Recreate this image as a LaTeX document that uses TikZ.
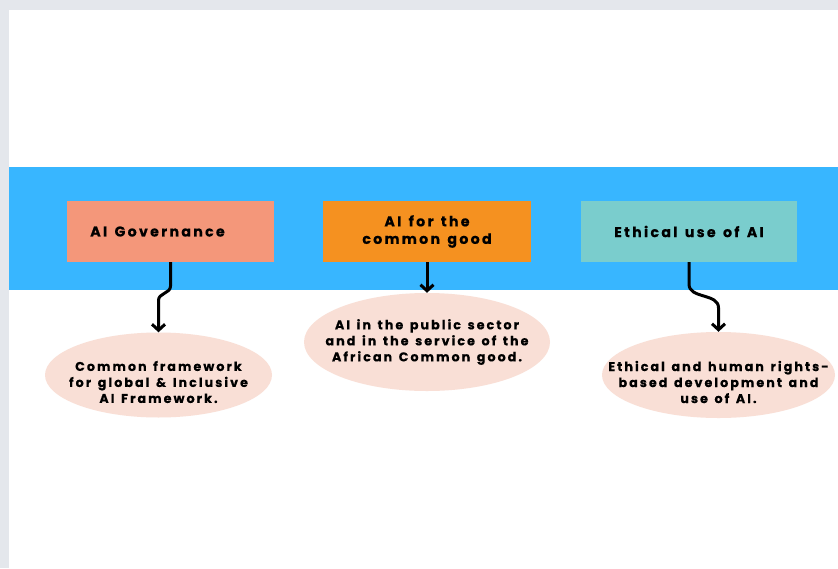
\documentclass[tikz,border=0pt]{standalone}
\usepackage{fontspec}
\setmainfont{Poppins}[LetterSpace=16, WordSpace=1.4, BoldFeatures={FakeBold=0.4}]
\usetikzlibrary{shapes.geometric,arrows.meta}

\definecolor{pagegray}{HTML}{E4E7EC}
\definecolor{bandblue}{HTML}{38B6FF}
\definecolor{govfill}{HTML}{F4977A}
\definecolor{goodfill}{HTML}{F59120}
\definecolor{ethicfill}{HTML}{7ACDCD}
\definecolor{notefill}{HTML}{F9DFD6}

\tikzset{
  topbox/.style={rectangle, minimum height=61pt, inner sep=0pt, align=center,
    font=\bfseries\fontsize{14.2}{17.5}\selectfont},
  note/.style={ellipse, fill=notefill, inner sep=0pt},
  notetext/.style={align=center, font=\bfseries\fontsize{12.7}{16}\selectfont},
  flow/.style={line width=3pt, line join=round, -{Straight Barb[length=6pt,width=13pt]}}
}

\begin{document}
\begin{tikzpicture}[x=1pt, y=1pt]
    \useasboundingbox (0,0) rectangle (838,-568);
    % page
    \fill[pagegray] (0,0) rectangle (838,-568);
    \fill[white] (8.7,-10) rectangle (838,-568);
    \fill[bandblue] (8.7,-167) rectangle (838,-290);

    % boxes on the band
    \node[topbox, fill=govfill, minimum width=207pt] (gov) at (170.5,-231.5) {\hspace*{-26pt}AI Governance};
    \node[topbox, fill=goodfill, minimum width=208pt] (good) at (427,-231.5) {AI for the\\common good};
    \node[topbox, fill=ethicfill, minimum width=216pt] (ethic) at (689,-231.5) {Ethical use of AI};

    % notes below
    \node[note, minimum width=227pt, minimum height=85pt] (govnote) at (158.5,-375) {};
    \node[notetext] at ([yshift=-7]govnote.center) {Common framework\\for global \& Inclusive\\AI Framework.};
    \node[note, minimum width=246pt, minimum height=98pt] (goodnote) at (427,-342) {};
    \node[notetext] at (goodnote.center) {AI in the public sector\\and in the service of the\\African Common good.};
    \node[note, minimum width=233pt, minimum height=86pt] (ethicnote) at (718.5,-375) {};
    \node[notetext] at ([yshift=-7]ethicnote.center) {Ethical and human rights-\\based development and\\use of AI.};

    % arrows
    \draw[flow] (gov.south) -- ++(0,-24) to[out=-90,in=90] ([yshift=32]govnote.north) -- (govnote.north);
    \draw[flow] (good.south) -- (goodnote.north);
    \draw[flow] (ethic.south) -- ++(0,-22) to[out=-90,in=90] ([yshift=24]ethicnote.north) -- (ethicnote.north);
\end{tikzpicture}
\end{document}
